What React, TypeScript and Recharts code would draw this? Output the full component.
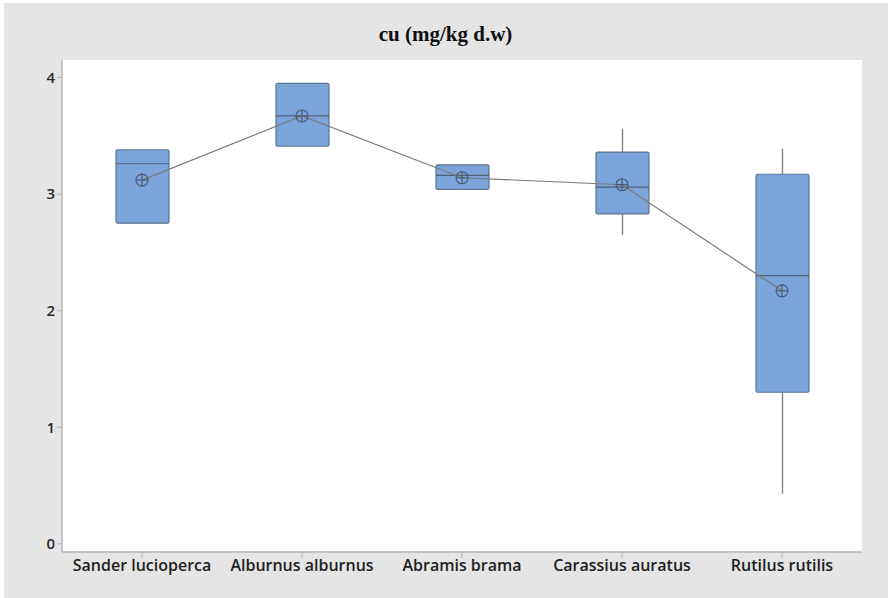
import { ComposedChart, Bar, Line, XAxis, YAxis, CartesianGrid } from "recharts";

const species = ["Sander lucioperca", "Alburnus alburnus", "Abramis brama", "Carassius auratus", "Rutilus rutilis"];
const q1 = [2.75, 3.41, 3.04, 2.83, 1.3];
const q3 = [3.38, 3.95, 3.25, 3.36, 3.17];
const median = [3.26, 3.67, 3.16, 3.06, 2.3];
const mean = [3.12, 3.67, 3.14, 3.08, 2.17];
const whiskerLow = [2.75, 3.41, 3.04, 2.65, 0.43];
const whiskerHigh = [3.38, 3.95, 3.25, 3.56, 3.39];
const yTicks = [0, 1, 2, 3, 4];

const data = species.map((name, i) => ({
  name,
  box: [q1[i], q3[i]],
  q1: q1[i],
  q3: q3[i],
  median: median[i],
  mean: mean[i],
  lo: whiskerLow[i],
  hi: whiskerHigh[i],
}));

const BoxShape = (props: any) => {
  const { x, y, width, height, payload } = props;
  const top = Math.min(y, y + height);
  const h = Math.abs(height);
  const k = h / (payload.q3 - payload.q1); // px per unit
  const py = (v: number) => top + (payload.q3 - v) * k;
  const cx = x + width / 2;
  return (
    <g>
      {payload.hi > payload.q3 && (
        <line x1={cx} x2={cx} y1={py(payload.hi)} y2={top} stroke="#8c8c8c" strokeWidth={1.5} />
      )}
      {payload.lo < payload.q1 && (
        <line x1={cx} x2={cx} y1={top + h} y2={py(payload.lo)} stroke="#8c8c8c" strokeWidth={1.5} />
      )}
      <rect x={x} y={top} width={width} height={h} rx={1.5} fill="#7ba5da" stroke="#5e7390" strokeWidth={1.2} />
      <line x1={x} x2={x + width} y1={py(payload.median)} y2={py(payload.median)} stroke="#4f6079" strokeWidth={1.2} />
    </g>
  );
};

const MeanDot = (props: any) => {
  const { cx, cy, index } = props;
  return (
    <g key={`m-${index}`}>
      <circle cx={cx} cy={cy} r={6} fill="none" stroke="#4a5872" strokeWidth={1.1} />
      <line x1={cx - 6} x2={cx + 6} y1={cy} y2={cy} stroke="#4a5872" strokeWidth={1.1} />
      <line x1={cx} x2={cx} y1={cy - 6} y2={cy + 6} stroke="#4a5872" strokeWidth={1.1} />
    </g>
  );
};

export default function App() {
  return (
    <div style={{ position: "absolute", left: 0, top: 0, width: 891, height: 598, background: "#fff" }}>
      <div style={{ position: "absolute", left: 4, top: 3, width: 884, height: 595, background: "#e5e5e5" }} />
      <div
        style={{
          position: "absolute",
          left: 0,
          top: 22,
          width: 891,
          textAlign: "center",
          fontFamily: "'Liberation Serif', serif",
          fontWeight: 700,
          fontSize: 21,
          color: "#111",
        }}
      >
        cu (mg/kg d.w)
      </div>
      <div style={{ position: "absolute", left: 0, top: 0 }}>
        <ComposedChart width={891} height={598} data={data} margin={{ top: 60, right: 29, bottom: 14, left: 32 }}>
          <CartesianGrid horizontal={false} vertical={false} fill="#fff" />
          <XAxis
            dataKey="name"
            xAxisId="top"
            orientation="top"
            height={0}
            tick={false}
            tickLine={false}
            axisLine={{ stroke: "#b4b4b4", strokeWidth: 1.5 }}
          />
          <YAxis
            yAxisId="right"
            orientation="right"
            width={0}
            domain={[-0.07, 4.15]}
            tick={false}
            tickLine={false}
            axisLine={{ stroke: "#b4b4b4", strokeWidth: 1.5 }}
          />
          <XAxis
            dataKey="name"
            height={32}
            interval={0}
            tickSize={6}
            tickLine={{ stroke: "#b4b4b4" }}
            axisLine={{ stroke: "#b4b4b4", strokeWidth: 1.5 }}
            tick={{ fill: "#1e1e1e", fontSize: 16, fontWeight: 600, fontFamily: "'Open Sans', sans-serif" }}
          />
          <YAxis
            width={30}
            type="number"
            domain={[-0.07, 4.15]}
            ticks={yTicks}
            allowDataOverflow
            tickSize={5}
            tickLine={{ stroke: "#b4b4b4" }}
            axisLine={{ stroke: "#b4b4b4", strokeWidth: 1.5 }}
            tick={{ fill: "#2a2a2a", fontSize: 15, fontWeight: 600, fontFamily: "'Open Sans', sans-serif" }}
          />
          <Bar dataKey="box" barSize={53} shape={BoxShape} isAnimationActive={false} />
          <Line dataKey="mean" stroke="#7a7a7a" strokeWidth={1.2} dot={MeanDot} activeDot={false} isAnimationActive={false} />
        </ComposedChart>
      </div>
    </div>
  );
}
